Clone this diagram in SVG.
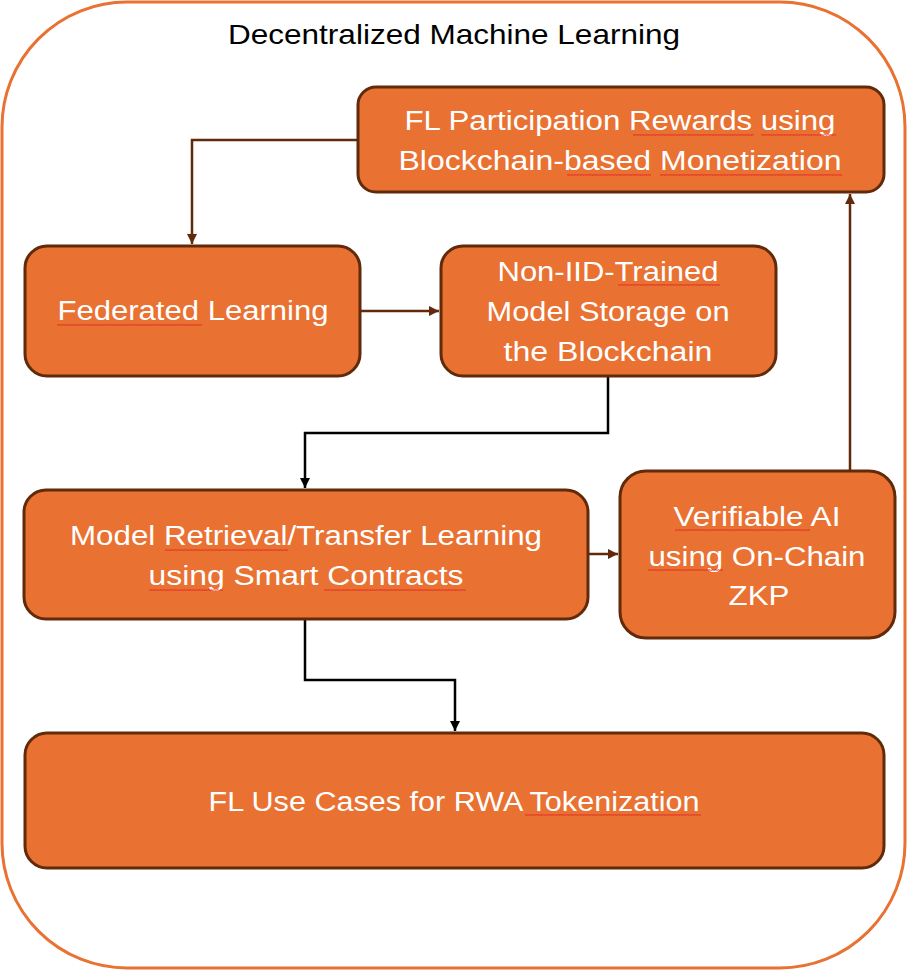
<svg xmlns="http://www.w3.org/2000/svg" width="907" height="970" viewBox="0 0 907 970">
<defs>
<style>
.frame{fill:#ffffff;stroke:#E97132;stroke-width:3}
.box{fill:#E97132;stroke:#612B0B;stroke-width:3}
.t{font-family:"Liberation Sans","DejaVu Sans",sans-serif;font-size:27px;fill:#ffffff;text-anchor:middle}
.title{font-family:"Liberation Sans","DejaVu Sans",sans-serif;font-size:28px;fill:#000000;text-anchor:middle}
.cb{fill:none;stroke:#612B0B;stroke-width:2.5}
.ck{fill:none;stroke:#000000;stroke-width:2.5}
.sq{fill:url(#wave)}
</style>
<pattern id="wave" width="3" height="2" patternUnits="userSpaceOnUse">
<path d="M0,1.7 L0.75,0.3 L1.5,1.7 L2.25,0.3 L3,1.7" fill="none" stroke="#E02020" stroke-width="0.6"/>
</pattern>
<marker id="ab" viewBox="0 0 10 10" refX="10" refY="5" markerWidth="4" markerHeight="4" orient="auto" markerUnits="strokeWidth">
<path d="M0,0 L10,5 L0,10 z" fill="#612B0B"/>
</marker>
<marker id="ak" viewBox="0 0 10 10" refX="10" refY="5" markerWidth="4" markerHeight="4" orient="auto" markerUnits="strokeWidth">
<path d="M0,0 L10,5 L0,10 z" fill="#000000"/>
</marker>
</defs>
<rect class="frame" x="2" y="2" width="903" height="966" rx="125" ry="125"/>
<text class="title" x="454" y="44" textLength="452" lengthAdjust="spacingAndGlyphs">Decentralized Machine Learning</text>

<g id="connectors">
<path class="cb" d="M358,140 H192 V244" marker-end="url(#ab)"/>
<path class="cb" d="M360,311 H439" marker-end="url(#ab)"/>
<path class="ck" d="M608,376 V433 H305 V488" marker-end="url(#ak)"/>
<path class="cb" d="M588,554 H618" marker-end="url(#ab)"/>
<path class="cb" d="M850,471 V194" marker-end="url(#ab)"/>
<path class="ck" d="M305,619 V680 H455 V731" marker-end="url(#ak)"/>
</g>

<g id="node-rewards">
<rect class="box" x="358" y="87" width="526" height="105" rx="18"/>
<text class="t" x="620" y="130" textLength="431" lengthAdjust="spacingAndGlyphs">FL Participation Rewards using</text>
<text class="t" x="620" y="170" textLength="443" lengthAdjust="spacingAndGlyphs">Blockchain-based Monetization</text>
<rect class="sq" x="633" y="134" width="121" height="2"/>
<rect class="sq" x="761" y="134" width="75" height="2"/>
<rect class="sq" x="567" y="174" width="84" height="2"/>
<rect class="sq" x="660" y="174" width="182" height="2"/>
</g>

<g id="node-fl">
<rect class="box" x="25" y="246" width="335" height="130" rx="22"/>
<text class="t" x="193" y="320" textLength="271" lengthAdjust="spacingAndGlyphs">Federated Learning</text>
<rect class="sq" x="57" y="324" width="145" height="2"/>
</g>

<g id="node-storage">
<rect class="box" x="441" y="246" width="335" height="130" rx="22"/>
<text class="t" x="608" y="281" textLength="221" lengthAdjust="spacingAndGlyphs">Non-IID-Trained</text>
<text class="t" x="608" y="321" textLength="243" lengthAdjust="spacingAndGlyphs">Model Storage on</text>
<text class="t" x="608" y="361" textLength="209" lengthAdjust="spacingAndGlyphs">the Blockchain</text>
<rect class="sq" x="618" y="284" width="102" height="2"/>
</g>

<g id="node-retrieval">
<rect class="box" x="24" y="490" width="564" height="129" rx="22"/>
<text class="t" x="306" y="545" textLength="472" lengthAdjust="spacingAndGlyphs">Model Retrieval/Transfer Learning</text>
<text class="t" x="306" y="585" textLength="315" lengthAdjust="spacingAndGlyphs">using Smart Contracts</text>
<rect class="sq" x="165" y="549" width="123" height="2"/>
<rect class="sq" x="149" y="589" width="74" height="2"/>
<rect class="sq" x="324" y="589" width="142" height="2"/>
</g>

<g id="node-zkp">
<rect class="box" x="620" y="471" width="275" height="167" rx="26"/>
<text class="t" x="757" y="526" textLength="167" lengthAdjust="spacingAndGlyphs">Verifiable AI</text>
<text class="t" x="757" y="566" textLength="217" lengthAdjust="spacingAndGlyphs">using On-Chain</text>
<text class="t" x="759" y="605" textLength="61" lengthAdjust="spacingAndGlyphs">ZKP</text>
<rect class="sq" x="675" y="529" width="135" height="2"/>
<rect class="sq" x="648" y="569" width="75" height="2"/>
</g>

<g id="node-usecases">
<rect class="box" x="25" y="733" width="859" height="135" rx="22"/>
<text class="t" x="454" y="811" textLength="491" lengthAdjust="spacingAndGlyphs">FL Use Cases for RWA Tokenization</text>
<rect class="sq" x="525" y="814" width="176" height="2"/>
</g>
</svg>
